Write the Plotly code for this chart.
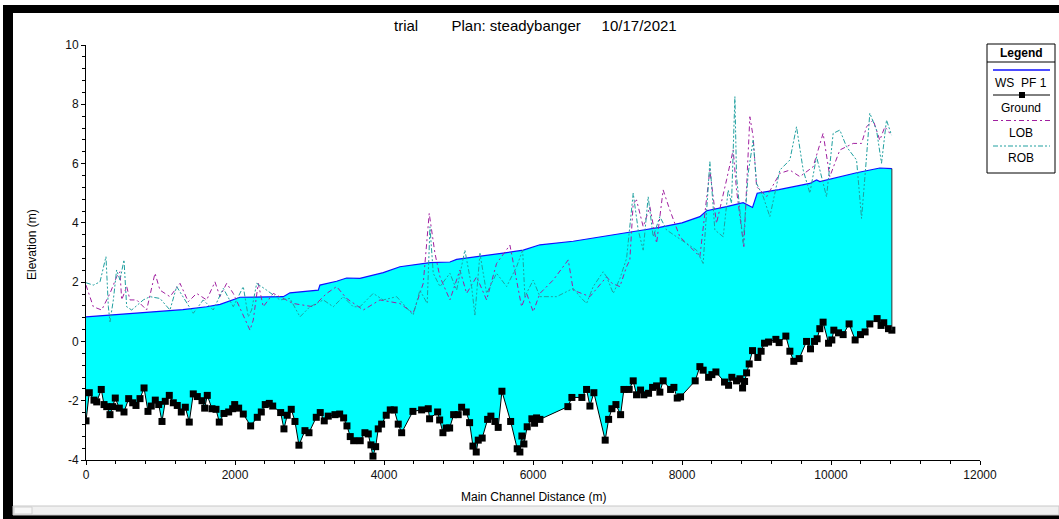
import plotly.graph_objects as go

# ---------------- data ----------------
ground_x = [0, 44, 107, 144, 205, 242, 278, 322, 358, 393, 447, 510, 573, 627, 671, 725, 779, 832, 876, 930,
            976, 1020, 1064, 1118, 1172, 1225, 1279, 1333, 1386, 1440, 1494, 1557, 1593, 1628, 1691, 1745, 1789,
            1852, 1915, 1969, 1996, 2049, 2111, 2210, 2299, 2353, 2406, 2460, 2506, 2613, 2657, 2701, 2755, 2805,
            2858, 2939, 2993, 3091, 3144, 3198, 3252, 3342, 3405, 3458, 3503, 3547, 3593, 3681, 3744, 3789, 3825,
            3852, 3888, 3923, 3968, 4030, 4084, 4137, 4191, 4237, 4388, 4505, 4594, 4612, 4720, 4747, 4791, 4835,
            4881, 4935, 4996, 5042, 5104, 5149, 5194, 5238, 5265, 5318, 5391, 5435, 5489, 5533, 5583, 5700, 5788,
            5824, 5851, 5878, 5922, 5985, 6021, 6048, 6093, 6468, 6522, 6656, 6719, 6764, 6817, 6969, 7015, 7059,
            7113, 7176, 7220, 7291, 7345, 7390, 7444, 7488, 7551, 7605, 7659, 7703, 7747, 7847, 7891, 7936, 7981,
            8177, 8240, 8284, 8357, 8401, 8455, 8571, 8625, 8669, 8732, 8777, 8813, 8840, 8867, 8902, 8947, 9018,
            9062, 9108, 9162, 9260, 9304, 9394, 9448, 9501, 9573, 9672, 9725, 9779, 9814, 9850, 9894, 9967, 10011,
            10038, 10101, 10163, 10243, 10324, 10396, 10458, 10521, 10619, 10672, 10708, 10772, 10817]
ground_y = [-2.68, -1.73, -1.98, -2.04, -1.62, -2.13, -2.20, -2.47, -2.20, -1.91, -2.25, -2.38, -1.93, -2.07, -2.16,
            -1.93, -1.57, -2.36, -2.18, -1.98, -2.13, -2.70, -2.02, -1.82, -2.07, -2.16, -2.38, -2.22, -2.72, -1.77,
            -1.86, -2.00, -2.25, -1.82, -2.27, -2.29, -2.72, -2.43, -2.38, -2.27, -2.13, -2.25, -2.45, -2.85, -2.56,
            -2.38, -2.13, -2.09, -2.18, -2.40, -2.95, -2.49, -2.29, -2.70, -3.50, -3.01, -3.08, -2.56, -2.40, -2.68,
            -2.52, -2.47, -2.45, -2.58, -2.85, -3.21, -3.35, -3.35, -3.08, -3.12, -3.49, -3.87, -3.55, -2.95, -2.79,
            -2.49, -2.31, -2.31, -2.79, -3.08, -2.36, -2.31, -2.27, -2.61, -2.38, -2.65, -3.08, -2.92, -2.92, -2.47,
            -2.47, -2.22, -2.38, -2.74, -3.53, -3.73, -3.33, -3.26, -2.63, -2.52, -2.70, -2.90, -1.68, -2.70, -3.62,
            -3.73, -3.19, -3.46, -2.88, -2.61, -2.76, -2.58, -2.63, -2.20, -1.89, -1.89, -1.62, -2.18, -1.73, -3.33,
            -2.63, -2.27, -2.13, -2.47, -1.62, -1.62, -1.33, -1.80, -1.64, -1.80, -1.75, -1.55, -1.50, -1.71, -1.33,
            -1.62, -1.55, -1.91, -1.87, -1.33, -0.85, -0.97, -1.21, -1.12, -1.03, -1.37, -1.48, -1.21, -1.33, -1.26,
            -1.57, -1.35, -1.06, -0.76, -0.31, -0.54, -0.33, -0.06, -0.02, 0.07, -0.04, 0.18, -0.33, -0.67, -0.58,
            0.00, -0.25, 0.00, 0.09, 0.43, 0.65, -0.06, 0.05, 0.38, 0.29, 0.23, 0.59, 0.05, 0.23, 0.32, 0.59, 0.77,
            0.54, 0.63, 0.43, 0.38]

ws_x = [0, 300, 600, 1000, 1300, 1620, 1800, 2067, 2300, 2648, 2738, 3000, 3118, 3140, 3364, 3498, 3677, 3990,
        4214, 4617, 4885, 4975, 5332, 5600, 5869, 6093, 6540, 6988, 7345, 7479, 7700, 8000, 8240, 8330, 8600,
        8821, 8947, 9009, 9300, 9716, 9806, 9850, 10343, 10655, 10817]
ws_y = [0.83, 0.88, 0.93, 1.00, 1.07, 1.17, 1.25, 1.49, 1.50, 1.51, 1.64, 1.70, 1.73, 1.90, 2.03, 2.14, 2.13, 2.32,
        2.52, 2.66, 2.68, 2.77, 2.88, 2.98, 3.08, 3.26, 3.38, 3.55, 3.69, 3.76, 3.85, 4.00, 4.21, 4.41, 4.55,
        4.68, 4.52, 5.00, 5.12, 5.33, 5.45, 5.39, 5.69, 5.85, 5.83]

lob_x = [0, 98, 210, 322, 411, 456, 479, 546, 590, 680, 814, 926, 993, 1127, 1262, 1373, 1485, 1620, 1731, 1798,
         1888, 1977, 2201, 2245, 2312, 2379, 2514, 2782, 3050, 3230, 3364, 3498, 3722, 3946, 4214, 4392, 4527,
         4607, 4684, 4751, 4885, 5019, 5109, 5243, 5377, 5511, 5690, 5780, 5847, 5914, 6003, 6093, 6271, 6473,
         6540, 6764, 6988, 7060, 7166, 7256, 7300, 7345, 7390, 7479, 7569, 7659, 7747, 7837, 7971, 8105, 8240,
         8374, 8463, 8598, 8687, 8732, 8830, 8911, 8955, 9001, 9135, 9313, 9448, 9582, 9760, 9894, 9984, 10119,
         10298, 10410, 10477, 10566, 10655, 10723, 10790]
lob_y = [1.90, 1.17, 1.06, 1.62, 2.18, 2.35, 1.40, 1.85, 1.40, 1.40, 1.06, 2.30, 1.73, 1.51, 1.96, 1.34, 1.62, 1.40,
         2.01, 1.51, 1.96, 1.62, 0.38, 0.72, 1.96, 1.17, 1.62, 1.28, 1.17, 1.62, 1.85, 1.45, 1.06, 1.40, 1.28, 0.95,
         1.96, 4.32, 2.97, 2.18, 1.40, 2.41, 1.62, 2.18, 1.40, 2.63, 3.25, 2.07, 1.17, 1.62, 1.00, 1.62, 2.07, 2.75,
         1.73, 1.51, 2.18, 1.96, 1.85, 2.52, 2.75, 4.66, 4.77, 3.87, 4.54, 3.31, 5.11, 4.43, 3.53, 3.20, 2.86, 5.78,
         3.98, 5.45, 6.46, 5.11, 3.20, 7.58, 6.91, 5.22, 4.88, 5.67, 5.78, 5.56, 5.89, 7.02, 5.56, 6.46, 6.68, 6.68,
         7.24, 7.47, 6.79, 7.24, 7.02]

rob_x = [0, 98, 188, 268, 300, 322, 367, 411, 456, 510, 546, 613, 769, 859, 993, 1127, 1217, 1351, 1440, 1574,
         1708, 1843, 1977, 2111, 2178, 2223, 2291, 2425, 2603, 2738, 2872, 3006, 3185, 3319, 3453, 3587, 3677,
         3855, 3990, 4170, 4392, 4482, 4580, 4617, 4661, 4751, 4885, 4975, 5086, 5176, 5220, 5288, 5377, 5511,
         5646, 5780, 5861, 5891, 6003, 6093, 6317, 6540, 6630, 6719, 6808, 6942, 6988, 7077, 7166, 7256, 7345,
         7412, 7479, 7546, 7613, 7703, 7793, 7927, 8061, 8195, 8284, 8374, 8441, 8553, 8620, 8665, 8710, 8732,
         8821, 8888, 8955, 9001, 9090, 9179, 9313, 9448, 9537, 9627, 9716, 9806, 9940, 10029, 10119, 10208, 10343,
         10410, 10477, 10521, 10611, 10678, 10745, 10812]
rob_y = [1.98, 1.90, 2.01, 2.86, 1.17, 0.66, 1.40, 2.41, 2.07, 2.75, 1.17, 1.06, 1.40, 1.51, 1.45, 1.06, 1.85, 1.28,
         0.95, 1.40, 1.06, 1.79, 1.17, 1.85, 0.83, 1.06, 1.96, 1.73, 1.40, 1.45, 0.83, 1.17, 1.40, 1.17, 1.51, 1.17,
         1.17, 1.62, 1.40, 1.51, 0.89, 1.73, 1.28, 3.87, 2.30, 1.85, 2.30, 1.73, 3.08, 1.85, 0.89, 2.97, 1.62, 2.30,
         1.85, 2.52, 3.08, 1.51, 2.07, 1.51, 1.51, 1.79, 1.51, 1.28, 1.85, 2.35, 2.18, 1.62, 2.12, 2.80, 5.00, 3.76,
         3.08, 4.88, 3.53, 4.21, 3.76, 3.53, 3.31, 3.08, 2.63, 6.06, 3.76, 3.53, 5.11, 4.66, 8.26, 5.56, 3.31, 5.67,
         6.79, 5.33, 4.88, 4.21, 5.78, 6.12, 7.24, 5.78, 5.00, 6.23, 4.88, 7.02, 7.13, 6.57, 6.12, 4.15, 6.23, 7.70,
         7.13, 6.01, 7.47, 6.96]

title_text = "trial\u00a0\u00a0\u00a0\u00a0\u00a0\u00a0\u00a0\u00a0Plan: steadybanger\u00a0\u00a0\u00a0\u00a0\u00a010/17/2021"
legend_labels = ["WS\u00a0\u00a0PF 1", "Ground", "LOB", "ROB"]

# ---------------- styles ----------------
W, H = 1059, 519
ML, MR, MT, MB = 86, 79, 45, 59
PW, PH = W - ML - MR, H - MT - MB
FONT = "Liberation Sans, Arial, sans-serif"
WS_COLOR = "#1010ff"
FILL = "#00ffff"
LOB_COLOR = "#a020a0"
ROB_COLOR = "#20a0a0"
LOB_DASH = "5px,3px,2px,3px"
ROB_DASH = "5px,2px,2px,2px,2px,2px"


def PX(px):
    return (px - ML) / PW


def PY(py):
    return ((MT + PH) - py) / PH


fig = go.Figure()
fig.add_trace(go.Scatter(x=ground_x, y=ground_y, mode="lines+markers",
                         line=dict(color="#000000", width=1),
                         marker=dict(symbol="square", size=7, color="#000000"),
                         name="Ground", showlegend=False))
fig.add_trace(go.Scatter(x=ws_x, y=ws_y, mode="lines", fill="tonexty", fillcolor=FILL,
                         line=dict(color=WS_COLOR, width=1.2), name="WS PF 1", showlegend=False))
fig.add_trace(go.Scatter(x=[ground_x[-1], ws_x[-1]], y=[ground_y[-1], ws_y[-1]], mode="lines",
                         line=dict(color="#303030", width=1), showlegend=False, hoverinfo="skip"))
fig.add_trace(go.Scatter(x=lob_x, y=lob_y, mode="lines",
                         line=dict(color=LOB_COLOR, width=1, dash=LOB_DASH), name="LOB", showlegend=False))
fig.add_trace(go.Scatter(x=rob_x, y=rob_y, mode="lines",
                         line=dict(color=ROB_COLOR, width=1, dash=ROB_DASH), name="ROB", showlegend=False))

shapes = []
ann = []


def rect(x0, y0, x1, y1, fill, line=None, lw=0):
    shapes.append(dict(type="rect", xref="paper", yref="paper", x0=PX(x0), x1=PX(x1), y0=PY(y1), y1=PY(y0),
                       fillcolor=fill, line=dict(color=line or fill, width=lw), layer="above"))


# window frame (black border and bottom scroll bar)
rect(3, 5, 1059, 13, "#000000")
rect(3, 5, 13, 519, "#000000")
rect(3, 515, 1059, 519, "#000000")
rect(13, 506, 1059, 515, "#f0f0f0", "#c8c8c8", 1)
rect(14, 507, 32, 514, "#f7f7f7", "#d0d0d0", 1)

# legend box
LX0, LX1 = 987, 1055
rect(LX0, 44, LX1, 173, "#ffffff", "#000000", 1)
shapes.append(dict(type="line", xref="paper", yref="paper", x0=PX(LX0), x1=PX(LX1), y0=PY(62), y1=PY(62),
                   line=dict(color="#000000", width=1), layer="above"))
ann.append(dict(text="<b>Legend</b>", x=PX(1021), y=PY(53), xref="paper", yref="paper", showarrow=False,
                font=dict(family=FONT, size=12, color="#000"), xanchor="center", yanchor="middle"))


def legline(py, color, dash="solid", width=1):
    shapes.append(dict(type="line", xref="paper", yref="paper", x0=PX(993), x1=PX(1050), y0=PY(py), y1=PY(py),
                       line=dict(color=color, width=width, dash=dash), layer="above"))


legline(70, WS_COLOR, width=1.5)
legline(95, "#000000")
rect(1019, 92, 1025, 98, "#000000")
legline(120.5, LOB_COLOR, LOB_DASH)
legline(146, ROB_COLOR, ROB_DASH)
for lab, py in zip(legend_labels, [83, 108, 133, 158]):
    ann.append(dict(text=lab, x=PX(1021), y=PY(py), xref="paper", yref="paper", showarrow=False,
                    font=dict(family=FONT, size=12, color="#000"), xanchor="center", yanchor="middle"))

# titles
ann.append(dict(text=title_text, x=PX(535), y=PY(25), xref="paper", yref="paper", showarrow=False,
                font=dict(family=FONT, size=15, color="#000"), xanchor="center", yanchor="middle"))
ann.append(dict(text="Main Channel Distance (m)", x=PX(533), y=PY(497), xref="paper", yref="paper",
                showarrow=False, font=dict(family=FONT, size=12, color="#000"), xanchor="center",
                yanchor="middle"))
ann.append(dict(text="Elevation (m)", x=PX(32), y=PY(245), xref="paper", yref="paper", showarrow=False,
                textangle=-90, font=dict(family=FONT, size=12, color="#000"), xanchor="center",
                yanchor="middle"))

fig.update_layout(
    width=W, height=H,
    margin=dict(l=ML, r=MR, t=MT, b=MB, pad=0),
    paper_bgcolor="#ffffff", plot_bgcolor="#ffffff",
    shapes=shapes, annotations=ann, showlegend=False,
    xaxis=dict(range=[0, 12000], tickvals=[0, 2000, 4000, 6000, 8000, 10000, 12000],
               ticktext=["0", "2000", "4000", "6000", "8000", "10000", "12000"],
               showgrid=False, zeroline=False, showline=True, linecolor="#000", linewidth=1,
               ticks="outside", ticklen=4, tickcolor="#000",
               minor=dict(dtick=400, tick0=0, ticks="outside", ticklen=3, tickcolor="#000", showgrid=False),
               tickfont=dict(family=FONT, size=12, color="#111")),
    yaxis=dict(range=[-4, 10], tickvals=[-4, -2, 0, 2, 4, 6, 8, 10],
               ticktext=["-4", "-2", "0", "2", "4", "6", "8", "10"],
               showgrid=False, zeroline=False, showline=True, linecolor="#000", linewidth=1,
               ticks="outside", ticklen=4, tickcolor="#000",
               minor=dict(dtick=0.4, tick0=-4, ticks="outside", ticklen=3, tickcolor="#000", showgrid=False),
               tickfont=dict(family=FONT, size=12, color="#111")),
)

fig.write_html("out.html", config={"displayModeBar": False},
               post_script="document.body.style.margin='0';document.body.style.overflow='hidden';")
